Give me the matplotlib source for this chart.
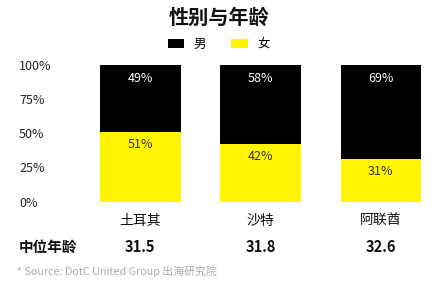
import matplotlib

matplotlib.use("Agg")
import matplotlib.pyplot as plt
from matplotlib.patches import Patch
import numpy as np

plt.rcParams["font.family"] = ["Noto Sans CJK SC", "DejaVu Sans"]

COUNTRIES = ["土耳其", "沙特", "阿联酋"]
MALE = [49, 58, 69]
FEMALE = [51, 42, 31]
MEDIAN_AGE = [31.5, 31.8, 32.6]
Y_TICKS = [0, 25, 50, 75, 100]

BLACK = "#000000"
YELLOW = "#FFF500"

W, H = 435, 284

fig = plt.figure(figsize=(W / 100, H / 100), dpi=100)
fig.patch.set_facecolor("white")

ax_left, ax_right = 80.2 / W, 1.0
ax_bottom, ax_top = (H - 201.7) / H, (H - 64.5) / H
ax = fig.add_axes([ax_left, ax_bottom, ax_right - ax_left, ax_top - ax_bottom])

x = np.arange(len(COUNTRIES))
width = 0.67
ax.bar(x, FEMALE, width=width, color=YELLOW)
ax.bar(x, MALE, width=width, bottom=FEMALE, color=BLACK)

ax.set_xlim(-0.5, 2.45)
ax.set_ylim(0, 100)
ax.set_xticks([])
ax.set_yticks(Y_TICKS)
ax.set_yticklabels([f"{t}%" for t in Y_TICKS], fontsize=9, color="#222222")
ax.tick_params(axis="y", length=0, pad=44)
for lbl in ax.get_yticklabels():
    lbl.set_horizontalalignment("left")
for spine in ax.spines.values():
    spine.set_visible(False)

for xi, f, m in zip(x, FEMALE, MALE):
    ax.annotate(f"{m}%", (xi, f + m), xytext=(0, -14.5 * 0.72),
                textcoords="offset points", ha="center", va="center",
                fontsize=9, color="white")
    ax.annotate(f"{f}%", (xi, f), xytext=(0, -12.5 * 0.72),
                textcoords="offset points", ha="center", va="center",
                fontsize=9, color="#333333")

trans = ax.get_xaxis_transform()
for xi, name, age in zip(x, COUNTRIES, MEDIAN_AGE):
    ax.text(xi, (201.7 - 221) / 137.2, name, transform=trans, ha="center",
            va="center", fontsize=10, color="#111111")
    ax.text(xi, (201.7 - 247) / 137.2, f"{age}", transform=trans, ha="center",
            va="center", fontsize=10.5, fontweight="bold", color="#111111")

fig.text(19 / W, 1 - 247 / H, "中位年龄", ha="left", va="center",
         fontsize=10.5, fontweight="bold", color="#111111")

fig.text(219 / W, 1 - 17 / H, "性别与年龄", ha="center", va="center",
         fontsize=14.5, fontweight="bold", color="#111111")

handles = [Patch(facecolor=BLACK), Patch(facecolor=YELLOW)]
fig.legend(handles, ["男", "女"], loc="center",
           bbox_to_anchor=(219 / W, 1 - 44 / H), ncol=2, frameon=False,
           fontsize=9, handlelength=1.3, handleheight=0.75,
           handletextpad=0.8, columnspacing=2.0)

fig.text(17 / W, 1 - 271 / H, "* Source: DotC United Group 出海研究院",
         ha="left", va="center", fontsize=7.8, color="#aaaaaa")

fig.savefig("out.png", dpi=100)
